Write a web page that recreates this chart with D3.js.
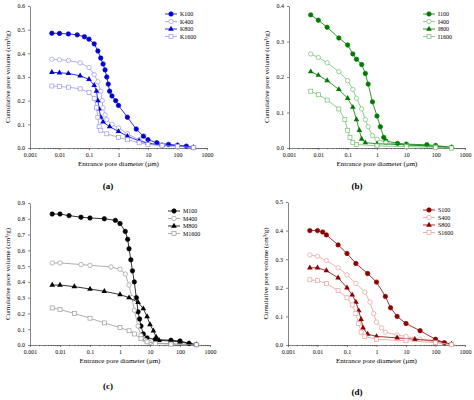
<!DOCTYPE html><html><head><meta charset="utf-8"><script src="https://cdn.jsdelivr.net/npm/d3@7"></script>
<style>body{margin:0;background:#fff}text{font-family:"Liberation Serif",serif}</style></head><body><svg id="c" width="474" height="400"></svg>
<script>
const xTicks=[0.001,0.01,0.1,1,10,100,1000];
const xTickLabels=["0.001","0.01","0.1","1","10","100","1000"];
const xLabel="Entrance pore diameter (μm)";
const yLabel="Cumulative pore volume (cm³/g)";
const panelA_names=["K100","K400","K800","K1600"];
const K100=[[0.0055,0.485],[0.01,0.484],[0.02,0.482],[0.04,0.478],[0.07,0.47],[0.1,0.46],[0.15,0.44],[0.2,0.41],[0.25,0.38],[0.3,0.355],[0.35,0.33],[0.4,0.3],[0.45,0.27],[0.5,0.24],[0.6,0.22],[0.8,0.2],[1,0.18],[2,0.13],[4,0.08],[7,0.05],[10,0.035],[20,0.022],[50,0.015],[100,0.012],[200,0.008],[350,0.002]];
const K400=[[0.0055,0.375],[0.01,0.373],[0.02,0.37],[0.05,0.36],[0.1,0.34],[0.15,0.31],[0.2,0.28],[0.25,0.24],[0.28,0.2],[0.3,0.17],[0.35,0.14],[0.4,0.12],[0.6,0.1],[1,0.085],[2,0.06],[5,0.035],[10,0.02],[30,0.012],[100,0.009],[350,0.002]];
const K800=[[0.0055,0.32],[0.01,0.318],[0.02,0.315],[0.05,0.305],[0.1,0.29],[0.15,0.265],[0.18,0.24],[0.2,0.2],[0.22,0.165],[0.25,0.13],[0.3,0.11],[0.5,0.09],[1,0.07],[2,0.05],[5,0.03],[10,0.02],[30,0.012],[100,0.01],[350,0.002]];
const K1600=[[0.0055,0.262],[0.01,0.26],[0.02,0.257],[0.05,0.25],[0.1,0.235],[0.15,0.21],[0.18,0.17],[0.2,0.13],[0.22,0.09],[0.25,0.075],[0.4,0.06],[1,0.045],[2,0.035],[5,0.022],[10,0.015],[30,0.01],[100,0.007],[350,0.001]];
const panelB_names=["I100","I400","I800","I1600"];
const I100=[[0.0055,0.375],[0.01,0.36],[0.02,0.34],[0.05,0.31],[0.1,0.29],[0.15,0.265],[0.2,0.25],[0.3,0.235],[0.4,0.21],[0.5,0.18],[0.7,0.13],[1,0.09],[1.3,0.06],[1.7,0.03],[2,0.02],[5,0.013],[10,0.011],[50,0.009],[100,0.007],[350,0.002]];
const I400=[[0.0055,0.265],[0.01,0.255],[0.02,0.24],[0.05,0.215],[0.1,0.19],[0.15,0.165],[0.2,0.14],[0.3,0.11],[0.4,0.08],[0.5,0.06],[0.7,0.035],[1,0.025],[2,0.015],[10,0.008],[100,0.004],[350,0.0]];
const I800=[[0.0055,0.215],[0.01,0.205],[0.02,0.19],[0.05,0.165],[0.1,0.14],[0.15,0.115],[0.2,0.08],[0.25,0.05],[0.3,0.025],[0.4,0.015],[1,0.012],[10,0.009],[100,0.005],[350,0.001]];
const I1600=[[0.0055,0.16],[0.01,0.15],[0.02,0.135],[0.05,0.11],[0.08,0.08],[0.1,0.05],[0.12,0.03],[0.15,0.016],[0.2,0.01],[1,0.006],[10,0.004],[100,0.002],[350,0.0]];
const panelC_names=["M100","M400","M800","M1600"];
const M100=[[0.0055,0.83],[0.01,0.83],[0.02,0.82],[0.05,0.81],[0.1,0.805],[0.3,0.8],[0.7,0.79],[1,0.77],[1.5,0.72],[1.8,0.67],[2,0.61],[2.3,0.54],[2.6,0.47],[3,0.4],[3.5,0.3],[4,0.21],[4.5,0.165],[5,0.12],[6,0.07],[8,0.045],[15,0.035],[50,0.03],[100,0.025],[200,0.01],[350,0.003]];
const M400=[[0.0055,0.52],[0.01,0.52],[0.05,0.51],[0.1,0.505],[0.5,0.495],[1,0.48],[1.5,0.45],[2,0.38],[2.5,0.3],[3,0.22],[4,0.12],[5,0.06],[7,0.03],[10,0.015],[50,0.008],[350,0.002]];
const M800=[[0.0055,0.38],[0.01,0.38],[0.03,0.37],[0.1,0.355],[0.3,0.34],[1,0.32],[2,0.3],[4,0.27],[6,0.23],[8,0.18],[10,0.13],[13,0.09],[16,0.05],[20,0.03],[50,0.025],[100,0.02],[200,0.01],[350,0.002]];
const M1600=[[0.0055,0.235],[0.01,0.225],[0.03,0.2],[0.1,0.17],[0.3,0.14],[1,0.11],[2,0.09],[3,0.07],[5,0.04],[8,0.02],[15,0.01],[50,0.006],[350,0.001]];
const panelD_names=["S100","S400","S800","S1600"];
const S100=[[0.0055,0.4],[0.01,0.4],[0.015,0.395],[0.02,0.385],[0.05,0.35],[0.1,0.32],[0.2,0.285],[0.5,0.25],[1,0.22],[2,0.17],[3,0.13],[5,0.1],[10,0.075],[30,0.05],[100,0.02],[200,0.008],[350,0.002]];
const S400=[[0.0055,0.315],[0.01,0.31],[0.02,0.295],[0.05,0.27],[0.1,0.245],[0.2,0.215],[0.4,0.185],[0.6,0.15],[0.8,0.11],[1,0.08],[1.5,0.06],[2,0.045],[5,0.035],[10,0.03],[30,0.02],[100,0.01],[350,0.002]];
const S800=[[0.0055,0.27],[0.01,0.27],[0.02,0.26],[0.05,0.235],[0.1,0.2],[0.15,0.175],[0.2,0.15],[0.25,0.12],[0.3,0.09],[0.35,0.06],[0.5,0.038],[1,0.03],[5,0.025],[20,0.02],[100,0.015],[350,0.003]];
const S1600=[[0.0055,0.228],[0.01,0.225],[0.02,0.215],[0.05,0.19],[0.1,0.165],[0.15,0.14],[0.2,0.11],[0.25,0.075],[0.3,0.045],[0.4,0.03],[1,0.02],[10,0.015],[100,0.008],[350,0.001]];

const svg=d3.select("#c");
const panels=[
 {names:panelA_names,data:[K100,K400,K800,K1600],cols:["#0000d0","#9a9ae8"],ymax:0.6,yt:[0,0.1,0.2,0.3,0.4,0.5,0.6],x0:30,x1:207,y0:148,y1:6,cap:"(a)",cx:108,cy:189},
 {names:panelB_names,data:[I100,I400,I800,I1600],cols:["#007a00","#70c070"],ymax:0.4,yt:[0,0.1,0.2,0.3,0.4],x0:289,x1:465,y0:148,y1:6,cap:"(b)",cx:357,cy:189},
 {names:panelC_names,data:[M100,M400,M800,M1600],cols:["#000","#999"],ymax:0.9,yt:[0,0.1,0.2,0.3,0.4,0.5,0.6,0.7,0.8,0.9],x0:30,x1:210,y0:345,y1:203,cap:"(c)",cx:108,cy:389},
 {names:panelD_names,data:[S100,S400,S800,S1600],cols:["#8b0000","#e8a0a0"],ymax:0.5,yt:[0,0.1,0.2,0.3,0.4,0.5],x0:288,x1:465,y0:345,y1:202,cap:"(d)",cx:357,cy:395}
];
function marker(g,t,col,x,y){
 const fill=(t===0||t===2)?col:"#fff";
 if(t<2) g.append("circle").attr("cx",x).attr("cy",y).attr("r",2.2).attr("fill",fill).attr("stroke",col).attr("stroke-width",0.7);
 else if(t===2) g.append("path").attr("d",d3.symbol(d3.symbolTriangle,14)()).attr("transform",`translate(${x},${y})`).attr("fill",col);
 else g.append("rect").attr("x",x-2).attr("y",y-2).attr("width",4).attr("height",4).attr("fill","#fff").attr("stroke",col).attr("stroke-width",0.7);
}
panels.forEach(p=>{
 const x=d3.scaleLog().domain([0.001,1000]).range([p.x0,p.x1]);
 const y=d3.scaleLinear().domain([0,p.ymax]).range([p.y0,p.y1]);
 const g=svg.append("g");
 const ax=g.append("g").attr("transform",`translate(0,${p.y0})`).call(d3.axisBottom(x).tickValues(xTicks).tickFormat((d,i)=>xTickLabels[i]).tickSizeInner(2).tickSizeOuter(0));
 const minor=[];xTicks.slice(0,-1).forEach(t=>{for(let k=2;k<10;k++)minor.push(t*k);});
 g.append("g").attr("transform",`translate(0,${p.y0})`).call(d3.axisBottom(x).tickValues(minor).tickFormat("").tickSizeInner(1.2).tickSizeOuter(0)).select(".domain").remove();
 const ay=g.append("g").attr("transform",`translate(${p.x0},0)`).call(d3.axisLeft(y).tickValues(p.yt).tickFormat(d3.format(".1f")).tickSizeInner(2).tickSizeOuter(0));
 g.selectAll(".tick text").attr("font-size",6).attr("font-family","Liberation Serif");
 g.selectAll("path.domain,line").attr("stroke","#333").attr("stroke-width",0.6);
 g.append("text").attr("x",(p.x0+p.x1)/2).attr("y",p.y0+18).attr("text-anchor","middle").attr("font-size",7).text(xLabel);
 g.append("text").attr("transform",`translate(${p.x0-20},${(p.y0+p.y1)/2}) rotate(-90)`).attr("text-anchor","middle").attr("font-size",7).text(yLabel);
 g.append("text").attr("x",p.cx).attr("y",p.cy).attr("text-anchor","middle").attr("font-size",9).attr("font-weight","bold").text(p.cap);
 const line=d3.line().x(d=>x(d[0])).y(d=>y(d[1]));
 p.data.forEach((s,i)=>{
  const col=p.cols[i%2];
  g.append("path").attr("d",line(s)).attr("fill","none").attr("stroke",col).attr("stroke-width",0.8);
  s.forEach(d=>marker(g,i,col,x(d[0]),y(d[1])));
 });
 const lx=p.x1-42, ly=p.y1+8;
 p.names.forEach((n,i)=>{
  const col=p.cols[i%2], yy=ly+i*7.5;
  g.append("line").attr("x1",lx).attr("x2",lx+12).attr("y1",yy).attr("y2",yy).attr("stroke",col).attr("stroke-width",0.8);
  marker(g,i,col,lx+6,yy);
  g.append("text").attr("x",lx+15).attr("y",yy+2).attr("font-size",6).text(n);
 });
});
</script></body></html>
